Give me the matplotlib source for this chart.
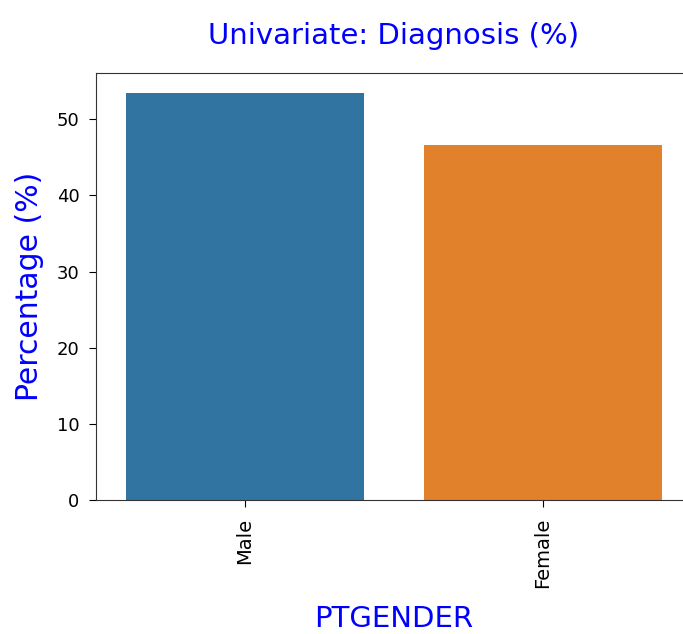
import matplotlib
matplotlib.use('Agg')
import matplotlib.pyplot as plt

categories = ['Male', 'Female']
percentages = [53.4, 46.6]
colors = ['#3274a1', '#e1812c']

fig = plt.figure(figsize=(6.83, 6.34), dpi=100)
ax = fig.add_axes([96/683, 134/634, 596/683, 427/634])
ax.bar(range(len(categories)), percentages, width=0.8, color=colors)
ax.set_xlim(-0.5, 1.5)
ax.set_xticks(range(len(categories)))
ax.set_xticklabels(categories, rotation=90, fontsize=14)
ax.tick_params(axis='x', pad=8, length=5)
ax.tick_params(axis='y', labelsize=13, pad=7, length=5)
for s in ax.spines.values():
    s.set_color('#333333')
ax.set_title('Univariate: Diagnosis (%)', color='blue', fontsize=21, pad=21)
ax.set_ylabel('Percentage (%)', color='blue', fontsize=21.5, labelpad=9)
ax.set_xlabel('PTGENDER', color='blue', fontsize=21, labelpad=12)

fig.savefig('out.png', dpi=100)
